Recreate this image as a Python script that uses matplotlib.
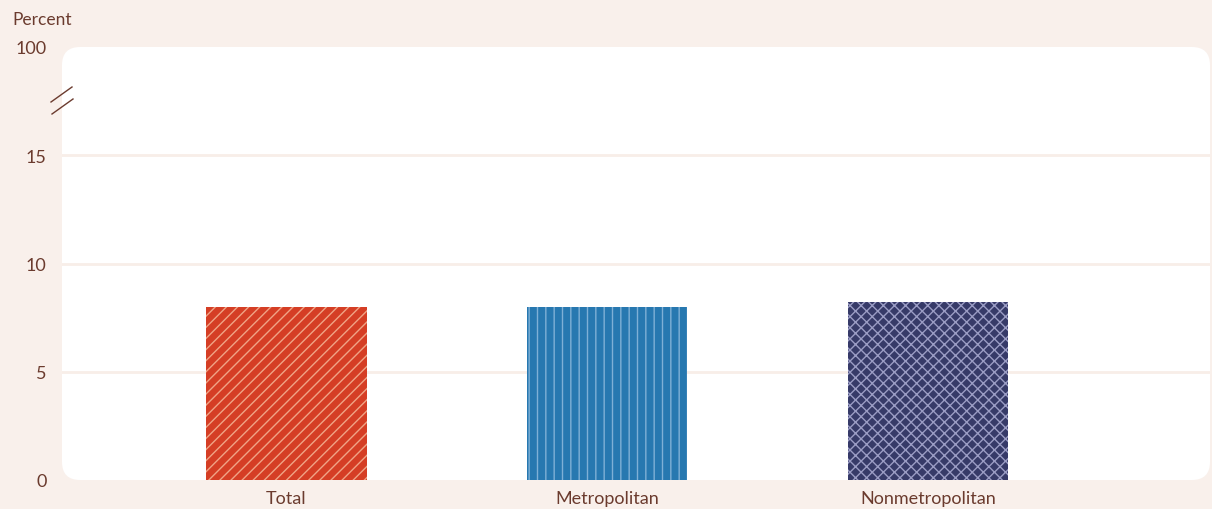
import matplotlib.pyplot as plt
from matplotlib.patches import FancyBboxPatch
from matplotlib.lines import Line2D

# data
categories = ["Total", "Metropolitan", "Nonmetropolitan"]
values = [8.0, 8.0, 8.2]
ytick_pos = [0, 5, 10, 15, 20]
ytick_labels = ["0", "5", "10", "15", "100"]

bar_colors = ["#d53e25", "#2778b0", "#363a68"]
hatch_colors = ["#f0a486", "#7fb0d6", "#9a9cc4"]
hatches = ["///", "||", "xxx"]

bg = "#f9f0eb"
txt = "#6b3b2e"

plt.rcParams["font.family"] = ["Lato", "DejaVu Sans"]
plt.rcParams["hatch.linewidth"] = 1.0

fig = plt.figure(figsize=(12.12, 5.10), dpi=100, facecolor=bg)

left, bottom = 62 / 1212, 1 - 481 / 510
width, height = (1210 - 62) / 1212, (481 - 48) / 510

# white rounded panel behind the axes
panel = FancyBboxPatch((left, bottom), width, height,
                       boxstyle="round,pad=0,rounding_size=0.015",
                       transform=fig.transFigure, facecolor="white",
                       edgecolor="none", zorder=-5,
                       mutation_aspect=1212 / 510)
fig.patches.append(panel)

ax = fig.add_axes([left, bottom, width, height])
ax.set_facecolor("none")

x = list(range(len(categories)))
for i in x:
    ax.bar(i, values[i], width=0.5, color=bar_colors[i], hatch=hatches[i],
           edgecolor=hatch_colors[i], linewidth=0, zorder=3)

ax.set_xlim(-0.70, 2.88)
ax.set_ylim(0, 20)
ax.set_yticks(ytick_pos)
ax.set_yticklabels(ytick_labels)
ax.set_xticks(x)
ax.set_xticklabels(categories)
ax.tick_params(axis="both", length=0, colors=txt, labelsize=13)
ax.tick_params(axis="y", pad=11)
ax.tick_params(axis="x", pad=7)

for y in [5, 10, 15]:
    ax.axhline(y, color="#f8eee8", linewidth=2, zorder=1)

for s in ax.spines.values():
    s.set_visible(False)

# axis break marks
fig.lines.append(Line2D([51 / 1212, 72 / 1212], [1 - 103 / 510, 1 - 88 / 510],
                        transform=fig.transFigure, color=txt, linewidth=1))
fig.lines.append(Line2D([52 / 1212, 73 / 1212], [1 - 115 / 510, 1 - 100 / 510],
                        transform=fig.transFigure, color=txt, linewidth=1))

fig.text(12 / 1212, 1 - 20 / 510, "Percent", color=txt, fontsize=12.5,
         ha="left", va="center")

fig.savefig("out.png", dpi=100, facecolor=bg)
